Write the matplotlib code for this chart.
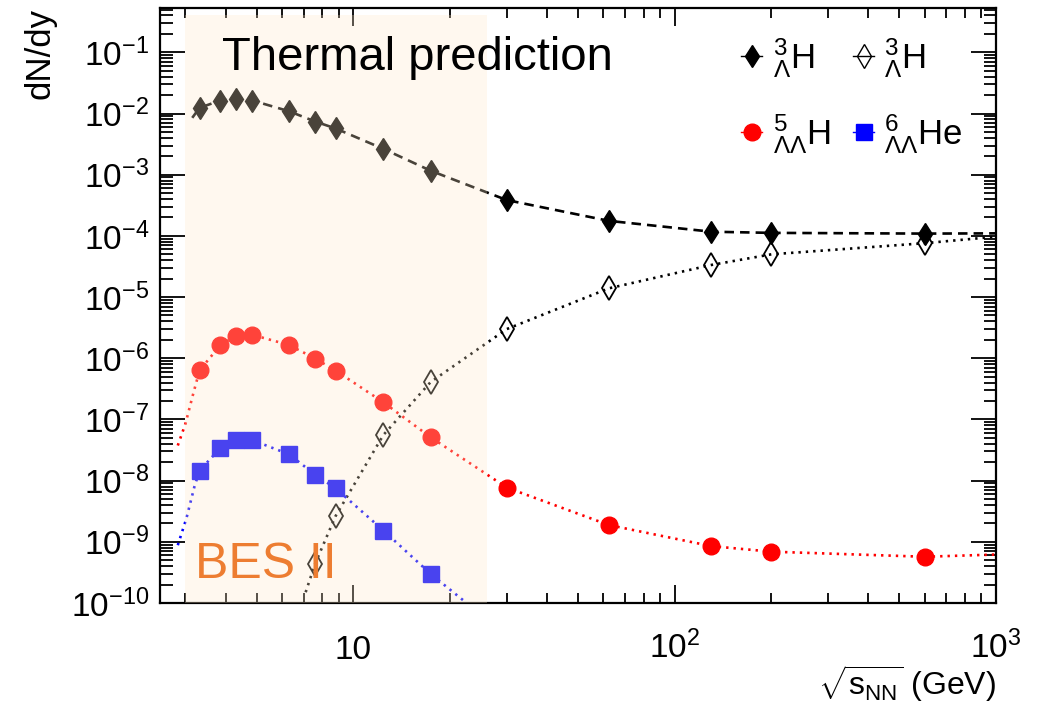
import numpy as np
import matplotlib
matplotlib.use("Agg")
import matplotlib.pyplot as plt
import matplotlib.ticker as mt
from matplotlib.lines import Line2D

plt.rcParams['font.family'] = ['Liberation Sans', 'DejaVu Sans']
plt.rcParams['mathtext.fontset'] = 'custom'
plt.rcParams['mathtext.rm'] = 'Liberation Sans'
plt.rcParams['mathtext.it'] = 'Liberation Sans:italic'
plt.rcParams['mathtext.bf'] = 'Liberation Sans:bold'

# collision energies (GeV) where the thermal model points are drawn
energy = [3.32, 3.85, 4.3, 4.85, 6.3, 7.6, 8.8, 12.4, 17.4, 30, 62.4, 130, 200, 600]

# hypertriton (filled)
h3l = [1.24e-2, 1.63e-2, 1.74e-2, 1.63e-2, 1.09e-2, 7.4e-3, 5.7e-3,
       2.64e-3, 1.16e-3, 3.85e-4, 1.76e-4, 1.17e-4, 1.12e-4, 1.09e-4]
# anti-hypertriton (open), only from 7.6 GeV up
anti_e = [7.6, 8.8, 12.4, 17.4, 30, 62.4, 130, 200, 600]
anti_h3l = [4.4e-10, 2.64e-9, 5.6e-8, 4.1e-7, 3.0e-6, 1.39e-5, 3.35e-5, 5.0e-5, 7.6e-5]
# 5_LL H
h5ll = [6.35e-7, 1.63e-6, 2.32e-6, 2.41e-6, 1.65e-6, 9.9e-7, 6.3e-7,
        1.9e-7, 5.1e-8, 7.7e-9, 1.88e-9, 8.5e-10, 6.9e-10, 5.7e-10]
# 6_LL He, up to 17.4 GeV
he6_e = [3.32, 3.85, 4.3, 4.85, 6.3, 7.6, 8.8, 12.4, 17.4]
he6ll = [1.46e-8, 3.39e-8, 4.58e-8, 4.58e-8, 2.70e-8, 1.25e-8, 7.5e-9, 1.53e-9, 2.98e-10]

# ends of the model curves outside the marker points
h3l_left, h3l_right = ([3.15], [8.5e-3]), ([1000], [1.1e-4])
anti_left, anti_right = ([7.1], [1.5e-10]), ([1000], [9.7e-5])
h5_left, h5_right = ([2.84, 3.0, 3.17], [3.75e-8, 8.5e-8, 2.6e-7]), ([1000], [6.2e-10])
he6_left, he6_right = ([2.84, 3.02, 3.2], [8.8e-10, 2.4e-9, 8e-9]), ([22.5], [1.0e-10])

bes_range = (3.0, 26.0)


def curve(x, y, left, right):
    return list(left[0]) + list(x) + list(right[0]), list(left[1]) + list(y) + list(right[1])


fig = plt.figure(figsize=(10.43, 7.09), dpi=100)
ax = fig.add_axes([0.1534, 0.1495, 0.8016, 0.8392])
ax.set_xscale('log')
ax.set_yscale('log')
ax.set_xlim(2.5, 1000)
ax.set_ylim(1e-10, 0.53)

dash = dict(lw=1.9, linestyle=(0, (3.6, 2.3)))
dot = dict(lw=1.9, linestyle=(0, (0.9, 1.9)))

cx, cy = curve(energy, h3l, h3l_left, h3l_right)
ax.plot(cx, cy, color='black', zorder=2, **dash)
cx, cy = curve(anti_e, anti_h3l, anti_left, anti_right)
ax.plot(cx, cy, color='black', zorder=2, **dot)
cx, cy = curve(energy, h5ll, h5_left, h5_right)
ax.plot(cx, cy, color='red', zorder=2, **dot)
cx, cy = curve(he6_e, he6ll, he6_left, he6_right)
ax.plot(cx, cy, color='blue', zorder=2, **dot)

ax.plot(energy, h3l, 'd', color='black', ms=11.5, zorder=3)
ax.plot(anti_e, anti_h3l, 'd', mfc='none', mec='black', mew=1.3, ms=12, zorder=3)
ax.plot(energy, h5ll, 'o', color='red', ms=12, zorder=3)
ax.plot(he6_e, he6ll, 's', color='blue', ms=11.5, zorder=3)

# BES II band drawn on top, semi-transparent
ax.fill_between(bes_range, 1e-10, 0.40, color='#FFEACB', alpha=0.29, lw=0, zorder=4)

ax.text(0.074, 0.896, 'Thermal prediction', transform=ax.transAxes, fontsize=34,
        va='baseline', ha='left', zorder=6)
ax.text(0.042, 0.042, 'BES II', transform=ax.transAxes, fontsize=36, color='#ED7D31',
        va='baseline', ha='left', zorder=6)

handles = [
    Line2D([], [], color='black', marker='d', ms=11.5, lw=1),
    Line2D([], [], color='red', marker='o', ms=12, lw=1),
    Line2D([], [], color='black', marker='d', mfc='none', ms=12, lw=1),
    Line2D([], [], color='blue', marker='s', ms=11.5, lw=1),
]
labels = [r'${}^{3}_{\Lambda}\mathrm{H}$', r'${}^{5}_{\Lambda\Lambda}\mathrm{H}$',
          r'${}^{3}_{\Lambda}\mathrm{H}$', r'${}^{6}_{\Lambda\Lambda}\mathrm{He}$']
ax.legend(handles, labels, ncol=2, frameon=False, fontsize=25, loc='upper right',
          bbox_to_anchor=(0.998, 1.005), handlelength=0.6, handletextpad=0.3,
          columnspacing=0.65, labelspacing=0.9)


def xfmt(v, pos):
    n = int(round(np.log10(v)))
    return '10' if n == 1 else r'$10^{%d}$' % n


ax.xaxis.set_major_locator(mt.FixedLocator([10, 100, 1000]))
ax.xaxis.set_major_formatter(mt.FuncFormatter(xfmt))
ax.xaxis.set_minor_locator(mt.LogLocator(base=10, subs=np.arange(2, 10), numticks=20))
ax.xaxis.set_minor_formatter(mt.NullFormatter())
ax.yaxis.set_major_locator(mt.FixedLocator([10.0 ** k for k in range(-10, 0)]))
ax.yaxis.set_major_formatter(mt.FuncFormatter(lambda v, p: r'$10^{%d}$' % int(round(np.log10(v)))))
ax.yaxis.set_minor_locator(mt.LogLocator(base=10, subs=np.arange(2, 10), numticks=30))
ax.yaxis.set_minor_formatter(mt.NullFormatter())

ax.tick_params(which='both', direction='in', top=True, right=True, labelsize=24, width=1.3)
ax.tick_params(axis='x', which='major', length=13, pad=40)
ax.tick_params(axis='x', which='minor', length=7)
ax.tick_params(axis='y', which='major', length=18, pad=8)
ax.tick_params(axis='y', which='minor', length=9)
for lbl in ax.get_xticklabels():
    lbl.set_va('baseline')
for s in ax.spines.values():
    s.set_linewidth(1.6)

ax.set_xlabel(r'$\sqrt{\mathrm{s}_{\mathrm{NN}}}$ (GeV)', fontsize=23, loc='right', labelpad=-2)
ax.set_ylabel('dN/dy', fontsize=25, loc='top', labelpad=10)

fig.savefig('out.png', dpi=100)
